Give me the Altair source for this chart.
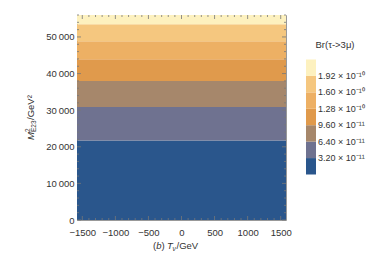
import altair as alt
import pandas as pd

# ---- data ----
band_lo = [0, 21700, 30900, 38000, 43900, 48800, 53500]
band_hi = [21700, 30900, 38000, 43900, 48800, 53500, 56000]
br_vals = [1.6e-11, 4.8e-11, 8.0e-11, 1.12e-10, 1.44e-10, 1.76e-10, 2.08e-10]
thresholds = [3.2e-11, 6.4e-11, 9.6e-11, 1.28e-10, 1.6e-10, 1.92e-10]
colors = ["#2A568C", "#6F7290", "#A6876B", "#E09A4C", "#EDB064", "#F5C77F", "#FDF1BF"]
t_range = [-1580, 1580]
m2_range = [0, 56000]
x_major = [-1500, -1000, -500, 0, 500, 1000, 1500]
x_minor = [v for v in range(-1500, 1501, 100) if v not in x_major]
y_major = [0, 10000, 20000, 30000, 40000, 50000]
y_minor = [v for v in range(0, 56001, 2000) if v not in y_major]

W, H = 209, 205
FONT = "Liberation Sans"
TICK_COLOR = "#777777"
LABEL_COLOR = "#333333"

xs = alt.Scale(domain=t_range, nice=False, zero=False)
ys = alt.Scale(domain=m2_range, nice=False)

x_axis = alt.Axis(values=x_major, ticks=False, domain=False, grid=False,
                  format="d", labelOverlap=False, labelBound=False,
                  labelFont=FONT, labelFontSize=9.5, labelColor=LABEL_COLOR,
                  labelPadding=7, title=None, labelFlush=False)
y_axis = alt.Axis(values=y_major, ticks=False, domain=False, grid=False,
                  labelFont=FONT, labelFontSize=9.5, labelColor=LABEL_COLOR,
                  labelPadding=3, title=None, labelFlush=False,
                  labelOverlap=False, labelBound=False,
                  labelExpr="replace(format(datum.value, ','), ',', '\u2009')")

bands = pd.DataFrame({
    "t0": [t_range[0]] * len(band_lo),
    "t1": [t_range[1]] * len(band_lo),
    "lo": band_lo,
    "hi": band_hi,
    "br": br_vals,
})

label_expr = (
    "isFinite(datum.value) ? (slice(format(datum.value, '.2e'), 0, 4) + ' \u00d7 10' + "
    "(indexof(format(datum.value, '.2e'), 'e-10') >= 0 ? '\u207b\u00b9\u2070' : '\u207b\u00b9\u00b9')) : ''"
)

rects = alt.Chart(bands).mark_rect().encode(
    x=alt.X("t0:Q", scale=xs, axis=x_axis),
    x2="t1:Q",
    y=alt.Y("lo:Q", scale=ys, axis=y_axis),
    y2="hi:Q",
    color=alt.Color("br:Q",
                    scale=alt.Scale(type="threshold", domain=thresholds, range=colors),
                    legend=alt.Legend(type="gradient", orient="none", legendX=229, legendY=25,
                                      direction="vertical", gradientLength=115, gradientThickness=10,
                                      gradientStrokeWidth=0,
                                      title="Br(\u03c4->3\u03bc)", titleFont=FONT, titleFontSize=9.5,
                                      titleFontWeight="normal", titleColor=LABEL_COLOR, titlePadding=10,
                                      titleAnchor="middle",
                                      labelFont=FONT, labelFontSize=9, labelColor=LABEL_COLOR,
                                      labelExpr=label_expr, labelOverlap=False)),
)

def tick_layer(vals, channel, length):
    df = pd.DataFrame({"v": vals})
    layers = []
    if channel == "x":
        layers.append(alt.Chart(df).mark_rule(color=TICK_COLOR, strokeWidth=0.8).encode(
            x=alt.X("v:Q", scale=xs, axis=x_axis), y=alt.value(H), y2=alt.value(H - length)))
        layers.append(alt.Chart(df).mark_rule(color=TICK_COLOR, strokeWidth=0.8).encode(
            x=alt.X("v:Q", scale=xs, axis=x_axis), y=alt.value(0), y2=alt.value(length)))
    else:
        layers.append(alt.Chart(df).mark_rule(color=TICK_COLOR, strokeWidth=0.8).encode(
            y=alt.Y("v:Q", scale=ys, axis=y_axis), x=alt.value(0), x2=alt.value(length)))
        layers.append(alt.Chart(df).mark_rule(color=TICK_COLOR, strokeWidth=0.8).encode(
            y=alt.Y("v:Q", scale=ys, axis=y_axis), x=alt.value(W), x2=alt.value(W - length)))
    return layers

ticks = (tick_layer(x_major, "x", 4) + tick_layer(x_minor, "x", 2)
         + tick_layer(y_major, "y", 4) + tick_layer(y_minor, "y", 2))

def txt(s, x, y, size=9.5, style="normal", angle=0, baseline="middle"):
    return alt.Chart(pd.DataFrame({"s": [s]})).mark_text(
        font=FONT, fontSize=size, fontStyle=style, color=LABEL_COLOR, align="left",
        baseline=baseline, angle=angle).encode(text="s:N", x=alt.value(x), y=alt.value(y))

# x-axis title: (b) T_nu/GeV
xt_y = 231
xtitle = [
    txt("(", 76, xt_y),
    txt("b", 79.2, xt_y, style="italic"),
    txt(")", 84.5, xt_y),
    txt("T", 90, xt_y, style="italic"),
    txt("\u03bd", 95.6, xt_y + 3, size=6.5, style="italic"),
    txt("/GeV", 99.5, xt_y),
]

# y-axis title: M^2_E23/GeV^2 (rotated)
yt_x = -46
ytitle = [
    txt("M", yt_x, 125, style="italic", angle=270),
    txt("2", yt_x - 3, 117, size=6.5, angle=270),
    txt("E23", yt_x + 3, 117, size=6.5, angle=270),
    txt("/GeV\u00b2", yt_x, 105, angle=270),
]

chart = alt.layer(rects, *ticks, *xtitle, *ytitle).properties(
    width=W, height=H,
    autosize=alt.AutoSizeParams(type="none"),
    padding={"left": 69, "top": 7, "right": 80, "bottom": 36},
).configure_view(stroke="#999999", strokeWidth=1).configure_legend(
    labelOffset=5
)

chart.save("out.html", embed_options={"renderer": "svg", "actions": False})
